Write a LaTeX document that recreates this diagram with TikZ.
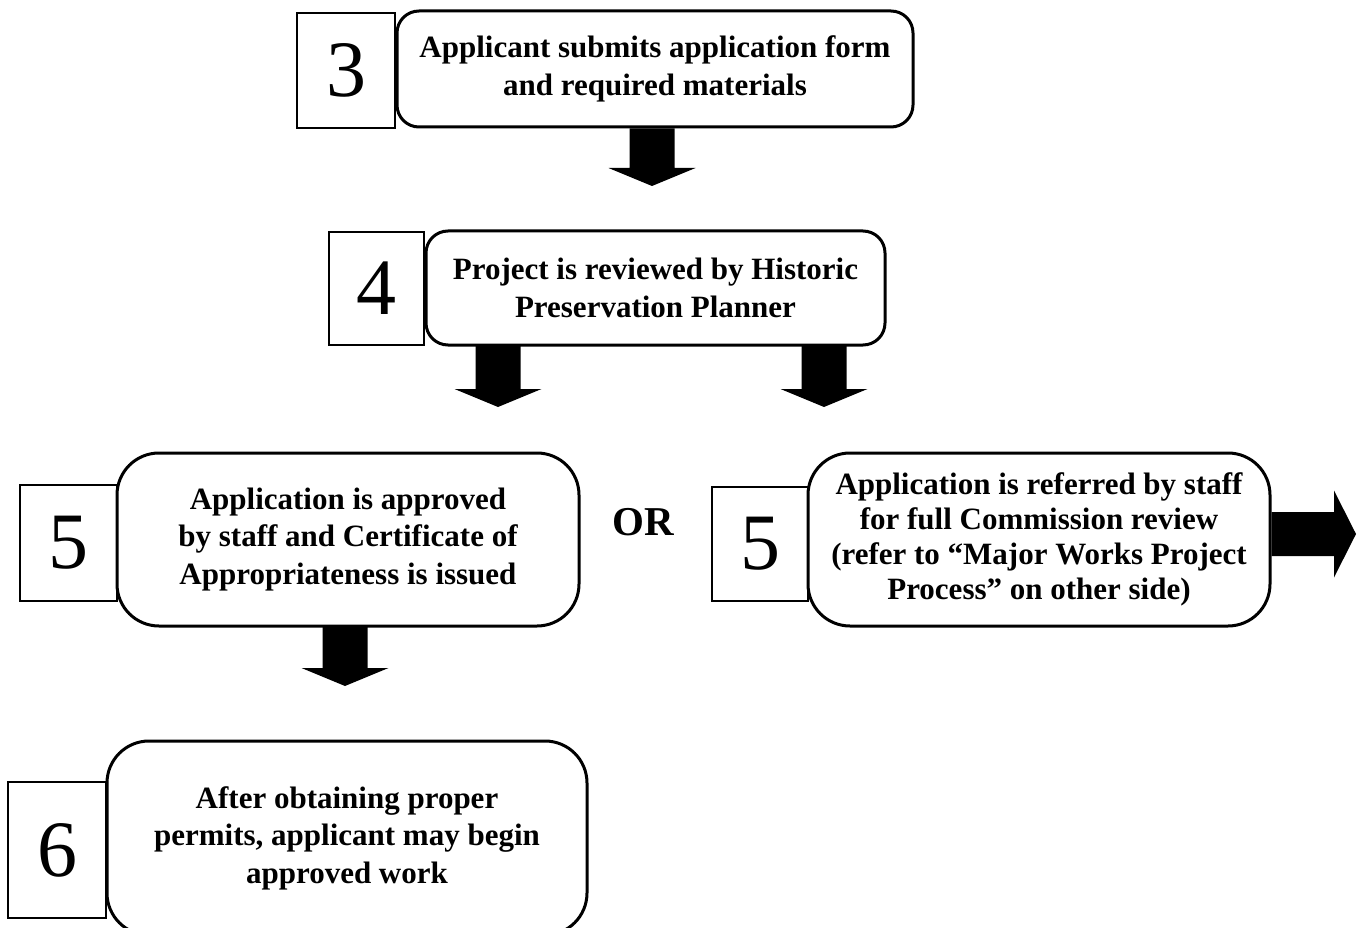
\documentclass[tikz,border=0pt]{standalone}
\usepackage{fontspec}
\setmainfont{Liberation Serif}
\usetikzlibrary{calc}
\tikzset{
  numbox/.style={draw, line width=2.5pt, fill=white, inner sep=0pt,
    font=\fontsize{80}{80}\selectfont},
  stepbox/.style={draw, line width=3pt, fill=white, rounded corners=#1, inner sep=0pt,
    align=center, font=\bfseries\fontsize{31}{37.5}\selectfont},
  stepbox/.default=22pt,
  ortext/.style={font=\bfseries\fontsize{41}{41}\selectfont, inner sep=0pt}
}
\newcommand\DnArrow[2]{\fill let \p1=(#1), \p2=(#2) in
  (\x1-22.5pt,\y1) -- (\x1+22.5pt,\y1) -- (\x1+22.5pt,\y2+18pt) -- (\x1+43.5pt,\y2+18pt)
  -- (\x2,\y2) -- (\x1-43.5pt,\y2+18pt) -- (\x1-22.5pt,\y2+18pt) -- cycle;}
\newcommand\RtArrow[2]{\fill let \p1=(#1), \p2=(#2) in
  (\x1,\y2+22pt) -- (\x2-22pt,\y2+22pt) -- (\x2-22pt,\y2+43.5pt) -- (\x2,\y2)
  -- (\x2-22pt,\y2-43.5pt) -- (\x2-22pt,\y2-22pt) -- (\x1,\y2-22pt) -- cycle;}
\begin{document}
\begin{tikzpicture}[x=1pt,y=-1pt]
\useasboundingbox[fill=white] (0,0) rectangle (1360,928);
\clip (0,0) rectangle (1360,928);

% step 3
\node[numbox, minimum width=98pt, minimum height=115pt] (n3) at (346,70.5) {3};
\node[stepbox, minimum width=516pt, minimum height=116pt] (b3) at (655,69)
  {Applicant submits application form\\and required materials};

% step 4
\node[numbox, minimum width=95pt, minimum height=113pt] (n4) at (376.5,288.5) {4};
\node[stepbox, minimum width=459pt, minimum height=114pt] (b4) at (655.5,288)
  {Project is reviewed by Historic\\Preservation Planner};

% step 5 left
\node[numbox, minimum width=97pt, minimum height=116pt] (n5a) at (68.5,543) {5};
\node[stepbox=42pt, minimum width=462pt, minimum height=173pt] (b5a) at (348,539.5)
  {Application is approved\\by staff and Certificate of\\Appropriateness is issued};

\node[ortext] (or) at (643,522) {OR};

% step 5 right
\node[numbox, minimum width=96pt, minimum height=114pt] (n5b) at (760,544) {5};
\node[stepbox=42pt, minimum width=462pt, minimum height=173pt,
  font=\bfseries\fontsize{31}{35}\selectfont] (b5b) at (1039,539.5)
  {Application is referred by staff\\for full Commission review\\(refer to “Major Works Project\\Process” on other side)};

% step 6
\node[numbox, minimum width=98pt, minimum height=136pt] (n6) at (57,850) {6};
\node[stepbox=42pt, minimum width=480pt, minimum height=194pt] (b6) at (347,838)
  {After obtaining proper\\permits, applicant may begin\\approved work};

% arrow end points
\coordinate (a1s) at ($(b3.south)+(-3,0)$);
\coordinate (a1t) at (652,186);
\coordinate (a2s) at (498,345);
\coordinate (a2t) at (498,407);
\coordinate (a3s) at (824,345);
\coordinate (a3t) at (824,407);
\coordinate (a4s) at (345,626);
\coordinate (a4t) at (345,686);
\coordinate (a5s) at (b5b.east);
\coordinate (a5t) at (1356,534);

\DnArrow{a1s}{a1t}
\DnArrow{a2s}{a2t}
\DnArrow{a3s}{a3t}
\DnArrow{a4s}{a4t}
\RtArrow{a5s}{a5t}
\end{tikzpicture}
\end{document}
